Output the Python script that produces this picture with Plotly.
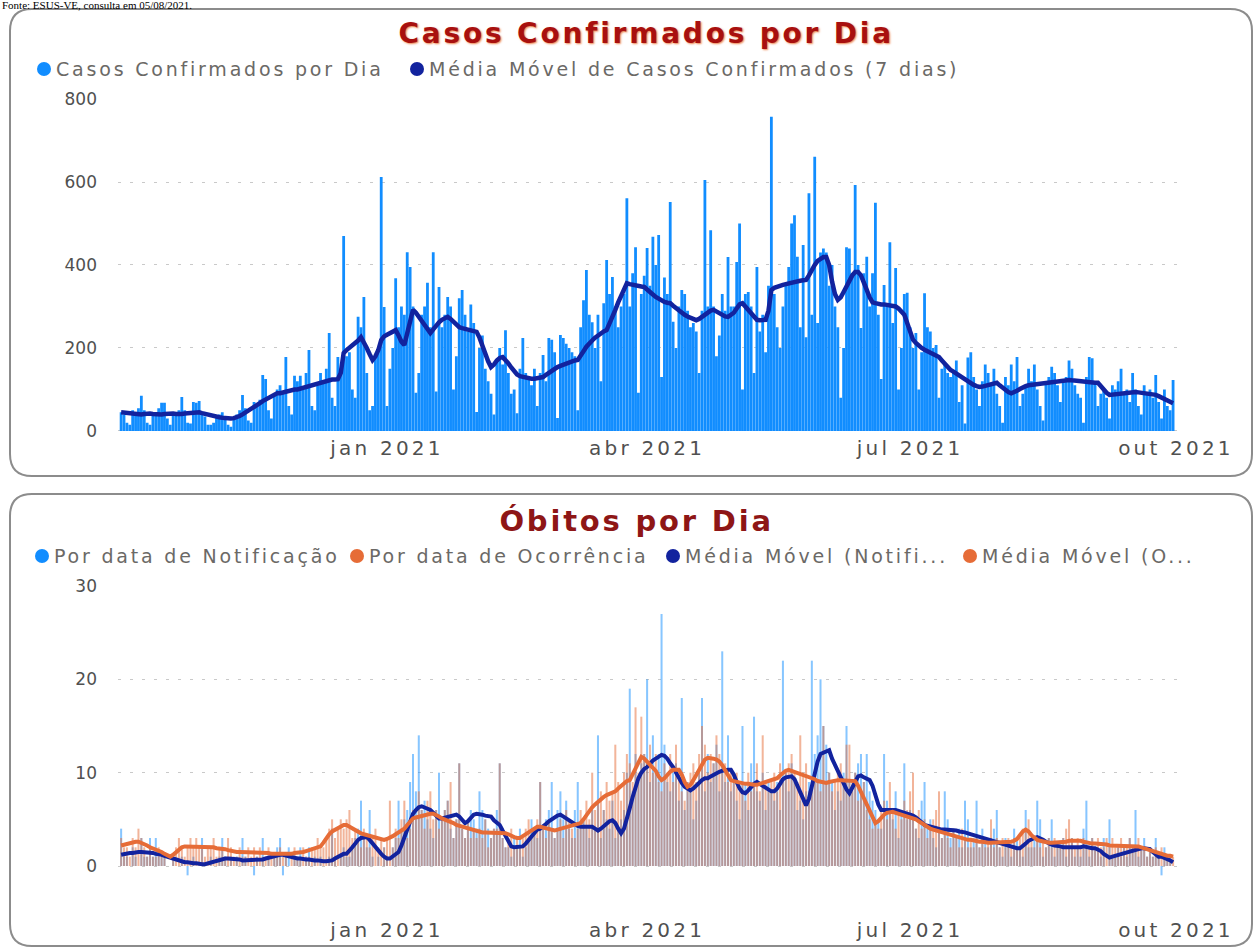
import pandas as pd
import plotly.graph_objects as go

# ---------------- DATA ----------------
month_starts = ["2020-10-01", "2020-11-01", "2020-12-01", "2021-01-01", "2021-02-01", "2021-03-01",
                "2021-04-01", "2021-05-01", "2021-06-01", "2021-07-01", "2021-08-01", "2021-09-01"]

tick_dates = ["2021-01-01", "2021-04-01", "2021-07-01", "2021-10-01"]
tick_labels = ["jan 2021", "abr 2021", "jul 2021", "out 2021"]

# Casos confirmados por dia (one row per month)
casos_dia = [
    [45,40,20,15,50,45,55,85,50,20,15,45,40,55,68,68,30,15,40,45,50,82,50,20,18,70,68,72,40,35,15],
    [15,20,35,40,45,35,15,10,30,40,50,87,55,25,20,70,60,75,135,125,50,30,90,100,110,95,178,60,40,133],
    [120,133,100,140,195,60,50,110,140,120,150,236,80,60,178,150,470,180,190,100,80,275,250,323,140,50,60,180,200,612,299],
    [60,150,200,368,250,300,280,431,395,300,92,140,280,300,357,250,431,95,347,250,280,323,300,100,180,320,340,280,240,305,260],
    [46,200,230,150,120,90,40,170,200,160,243,140,90,100,43,150,224,140,130,110,150,60,140,183,120,224,220,190],
    [31,231,224,210,200,190,180,50,250,315,388,280,262,200,280,120,308,412,330,371,300,250,300,330,561,300,380,443,92,330,374],
    [441,350,468,400,472,130,370,330,552,263,200,300,340,330,290,250,260,240,140,290,605,300,484,300,180,230,330,290,419,300],
    [300,407,500,100,330,335,300,140,395,240,280,190,350,757,330,250,200,300,350,395,500,520,420,250,448,226,573,280,661,260,430],
    [440,430,350,400,300,250,80,200,443,440,380,593,400,248,380,420,300,380,550,280,125,352,300,455,260,393,100,200,330,333],
    [250,200,236,100,190,332,250,240,200,207,80,150,160,140,130,140,170,70,110,18,177,190,130,100,60,120,160,140,110,150,90],
    [60,20,130,110,160,120,178,60,90,110,150,120,160,100,60,25,120,130,155,140,110,70,120,130,170,150,110,90,80,20,130],
    [178,175,120,60,90,100,80,30,110,100,120,150,90,100,70,140,100,60,40,110,90,100,80,135,70,30,100,60,50,123],
]

# Média móvel de casos confirmados (7 dias)
casos_mm7 = [
    [45,44,44,43,43,42,41,40,41,42,42,41,40,39,40,41,42,43,42,41,40,41,42,43,44,45,46,45,43,41,39],
    [37,35,34,33,32,31,30,30,31,33,36,40,44,48,52,56,60,67,72,76,80,84,88,91,91,93,95,97,99,100],
    [100,102,104,106,108,111,113,115,117,119,121,123,124,124,125,140,188,195,200,205,210,218,226,215,200,185,171,180,195,219,228],
    [232,236,240,243,230,215,207,235,265,292,285,275,265,255,245,236,245,255,262,268,272,275,270,262,255,250,248,246,244,242,240],
    [239,225,205,185,168,154,160,170,176,178,172,163,153,143,136,132,130,128,127,126,126,127,127,130,135,140,146,150],
    [154,157,160,163,166,168,170,171,180,192,203,212,218,225,231,237,240,243,258,275,292,310,325,340,356,354,352,350,349,348,347],
    [340,335,329,323,318,314,311,309,308,302,296,290,285,280,276,272,269,267,270,275,283,288,290,292,288,282,278,276,275,280],
    [285,295,305,308,300,290,280,272,268,267,267,268,290,340,345,348,350,352,354,356,358,360,361,362,363,364,375,390,400,410,415],
    [419,419,400,360,330,316,322,335,350,365,375,383,383,375,360,340,322,310,308,306,305,305,304,304,303,300,295,287,280,260],
    [240,220,212,205,200,196,192,190,186,182,178,170,162,155,147,143,138,133,128,123,119,115,111,108,106,107,109,111,113,115,116],
    [110,104,98,94,91,93,97,101,106,108,110,111,112,113,114,115,116,116,117,118,119,120,121,122,123,122,121,120,119,118,117],
    [117,116,116,116,108,98,92,87,88,89,90,91,92,93,93,94,94,93,92,91,91,91,89,87,84,80,77,74,70,67],
]

# Óbitos por data de notificação
obitos_notif = [
    [4,1,1,0,2,1,0,3,1,1,3,1,3,1,1,1,0,0,1,0,0,1,0,-1,0,1,0,0,3,0,0],
    [1,0,0,1,3,1,0,1,0,1,0,3,1,0,0,-1,1,0,3,0,1,0,1,2,3,-1,1,2,0,1],
    [1,2,0,1,2,0,1,0,1,0,0,1,4,1,0,1,2,1,1,2,3,4,7,3,2,6,1,0,1,0,2],
    [1,0,2,3,7,4,5,6,9,12,8,14,6,7,5,4,3,6,10,5,6,7,4,3,5,11,4,3,5,6,5],
    [4,8,6,5,4,3,4,6,11,3,2,2,1,3,2,4,1,2,3,5,4,3,9,4,5,6,9,3],
    [6,8,5,7,4,3,6,9,4,5,4,3,6,4,14,3,6,5,4,7,3,4,5,6,10,19,8,12,9,11,12],
    [20,9,14,10,12,27,13,9,8,10,11,7,18,6,9,8,5,7,10,18,8,12,9,11,13,8,23,9,14,8],
    [10,7,5,15,9,6,11,16,8,7,10,6,9,8,7,9,6,22,10,8,11,9,6,7,5,8,9,22,12,14,20],
    [15,13,10,9,6,8,7,10,15,9,8,10,11,12,9,12,8,7,6,5,4,12,7,6,5,8,3,6,11,5],
    [6,5,4,3,7,9,4,5,3,2,4,3,8,5,3,4,3,4,2,7,5,2,3,7,2,4,3,2,3,4,6],
    [2,1,3,2,1,4,3,2,1,6,2,2,3,7,5,1,2,3,5,1,2,2,3,1,2,3,1,2,1,4,7],
    [1,3,2,2,1,3,0,5,1,1,2,1,2,1,3,2,6,1,2,3,1,2,1,3,1,-1,2,1,1,0],
]

# Óbitos por data de ocorrência
obitos_ocorr = [
    [3,2,2,1,3,2,4,3,2,1,2,1,1,2,1,1,0,0,1,2,3,2,1,2,3,2,3,2,2,1,2],
    [2,3,1,2,2,1,3,2,1,1,2,1,1,2,1,2,1,2,1,1,2,1,1,1,2,1,1,0,1,2],
    [1,1,2,1,1,2,2,3,2,2,3,4,5,3,4,5,4,5,6,3,4,3,2,4,3,2,3,4,2,3,2],
    [3,7,2,4,3,5,7,3,4,6,5,8,6,4,7,8,5,6,4,5,6,7,9,3,5,11,4,3,5,3,4],
    [3,4,3,5,2,3,4,4,11,3,2,3,4,2,3,2,3,4,5,3,4,5,9,4,3,5,4,3],
    [4,5,3,6,5,4,3,4,6,5,7,5,10,6,7,8,6,9,7,8,13,9,7,10,12,11,9,17,10,16,12],
    [11,13,10,12,9,8,11,10,12,9,13,10,8,7,9,10,11,9,12,15,13,10,12,11,14,12,10,11,9,10],
    [9,10,8,9,7,10,8,9,11,8,14,9,8,9,10,8,11,9,10,11,12,10,9,14,10,11,8,9,10,9,8],
    [15,9,10,8,9,10,11,9,13,13,9,10,7,8,9,6,5,4,5,4,6,7,5,9,6,4,6,5,7,6],
    [8,10,4,6,4,5,3,4,5,6,8,3,4,3,2,4,3,2,4,3,2,3,2,3,2,3,2,3,5,2,3],
    [2,3,2,3,2,3,2,3,4,4,5,3,2,3,2,3,2,3,2,3,2,2,3,4,5,3,2,3,2,3,2],
    [2,3,2,3,2,2,3,2,3,2,2,3,2,2,3,2,2,3,2,2,1,2,1,2,1,2,1,1,1,1],
]

# Média móvel (notificação)
mm_notif = [
    [1.2,1.3,1.3,1.4,1.4,1.5,1.5,1.5,1.5,1.5,1.4,1.4,1.3,1.3,1.2,1.1,1.0,0.9,0.8,0.6,0.5,0.5,0.4,0.4,0.3,0.3,0.3,0.2,0.2,0.2,0.3],
    [0.4,0.5,0.6,0.7,0.8,0.8,0.8,0.8,0.7,0.7,0.7,0.6,0.6,0.6,0.6,0.6,0.6,0.6,0.7,0.8,0.9,1.0,1.1,1.2,1.2,1.2,1.1,1.0,0.9,0.8],
    [0.8,0.8,0.7,0.7,0.7,0.6,0.6,0.6,0.5,0.5,0.5,0.5,0.6,0.8,1.0,1.2,1.3,1.3,1.6,2.0,2.4,2.8,3.0,3.1,3.1,2.8,2.4,2.1,1.7,1.3,1.0],
    [0.8,0.8,1.0,1.3,1.5,2.2,3.0,4.0,4.8,5.6,6.0,6.3,6.4,6.3,6.1,6.0,5.7,5.4,5.1,5.1,5.2,5.3,5.4,5.5,5.5,5.3,5.0,4.6,4.8,5.2,5.5],
    [5.6,5.6,5.5,5.4,5.3,5.3,4.9,4.6,4.4,3.8,3.2,2.6,2.1,2.0,2.0,2.1,2.1,2.4,2.8,3.2,3.6,3.9,4.0,4.2,4.5,4.8,5.0,5.3],
    [5.4,5.5,5.3,5.0,4.8,4.6,4.4,4.3,4.2,4.2,4.2,4.2,4.2,4.0,3.8,4.0,4.3,4.6,4.8,4.9,4.6,4.0,3.5,4.0,5.0,6.2,7.4,8.5,9.4,10.0,10.4],
    [10.6,11.0,11.3,11.5,11.7,11.9,11.8,11.5,11.0,10.6,10.0,9.4,8.9,8.5,8.3,8.1,8.3,8.6,9.0,9.2,9.4,9.4,9.6,9.8,10.0,10.1,10.2,10.3,10.3,10.3],
    [9.8,9.0,8.3,7.9,7.8,8.1,8.5,8.8,9.0,8.8,8.5,8.3,8.1,8.0,8.0,8.3,8.8,9.3,9.5,9.6,9.6,9.3,8.6,7.8,7.0,6.5,7.2,8.6,10.0,11.2,12.0],
    [12.1,12.3,12.4,11.5,10.8,10.2,9.6,8.8,8.2,7.8,8.3,9.0,9.6,9.7,9.5,9.3,9.2,8.6,7.6,6.6,6.0,6.0,6.0,6.1,6.0,6.0,5.9,5.8,5.7,5.6],
    [5.6,5.4,5.2,5.0,4.7,4.4,4.3,4.2,4.1,4.0,3.9,3.9,3.9,3.9,3.8,3.8,3.8,3.7,3.7,3.6,3.5,3.4,3.3,3.2,3.1,3.0,2.9,2.8,2.7,2.7,2.6],
    [2.5,2.4,2.3,2.2,2.1,2.0,1.9,1.9,2.1,2.4,2.7,2.9,3.0,3.1,3.0,2.8,2.6,2.4,2.3,2.2,2.2,2.1,2.0,2.0,1.9,1.9,1.9,1.9,2.0,2.1,2.0],
    [2.0,1.9,1.9,1.8,1.6,1.3,1.1,0.9,1.0,1.1,1.2,1.3,1.4,1.5,1.5,1.6,1.7,1.8,1.9,1.9,1.9,1.8,1.5,1.2,1.0,1.0,0.9,0.8,0.6,0.4],
]

# Média móvel (ocorrência)
mm_ocorr = [
    [2.2,2.3,2.4,2.5,2.5,2.6,2.6,2.5,2.4,2.2,2.0,1.9,1.8,1.7,1.5,1.3,1.1,1.0,1.2,1.5,1.8,2.0,2.1,2.1,2.1,2.1,2.1,2.1,2.1,2.1,2.0],
    [2.0,2.0,1.9,1.9,1.9,1.8,1.7,1.6,1.5,1.5,1.5,1.5,1.5,1.5,1.5,1.5,1.5,1.5,1.5,1.5,1.4,1.3,1.3,1.2,1.2,1.2,1.2,1.3,1.3,1.4],
    [1.4,1.4,1.5,1.6,1.7,1.8,1.9,2.1,2.1,2.5,3.0,3.4,3.7,3.9,4.1,4.3,4.4,4.4,4.2,4.0,3.8,3.6,3.5,3.4,3.3,3.2,3.1,3.0,2.9,2.8,2.8],
    [2.9,3.0,3.2,3.4,3.6,3.7,4.0,4.4,4.8,5.1,5.2,5.3,5.4,5.5,5.6,5.6,5.6,5.5,5.3,5.1,5.0,4.9,4.8,4.6,4.4,4.3,4.2,4.1,4.0,3.9,3.8],
    [3.7,3.7,3.6,3.6,3.6,3.6,3.5,3.5,3.5,3.5,3.5,3.4,3.2,3.1,3.0,3.0,3.2,3.4,3.7,3.9,4.1,4.2,4.2,4.1,4.0,3.9,3.8,3.8],
    [3.9,4.0,4.1,4.2,4.3,4.4,4.5,4.6,4.6,5.0,5.5,6.0,6.3,6.6,6.9,7.2,7.4,7.6,7.7,7.8,8.0,8.3,8.6,8.9,9.1,9.2,9.8,10.5,11.1,11.7,11.5],
    [11.2,10.9,10.6,10.2,9.6,9.2,9.4,9.8,10.1,10.3,10.3,10.3,9.8,9.0,8.5,8.7,9.2,9.8,10.4,11.0,11.4,11.6,11.6,11.5,11.4,11.2,10.8,10.2,9.6,9.2],
    [9.1,9.0,8.9,8.9,8.8,8.8,8.7,8.7,8.7,8.8,8.9,9.0,9.1,9.2,9.2,9.4,9.7,10.0,10.2,10.3,10.2,10.1,10.0,9.9,9.8,9.7,9.6,9.4,9.3,9.1,9.0],
    [8.9,8.9,9.0,9.1,9.2,9.2,9.2,9.2,9.2,9.2,9.1,9.1,8.6,7.9,7.2,6.7,6.0,5.2,4.6,4.8,5.2,5.5,5.7,5.8,5.8,5.7,5.6,5.5,5.4,5.3],
    [5.3,5.2,5.0,4.8,4.6,4.3,4.1,4.0,3.9,3.8,3.7,3.6,3.5,3.5,3.4,3.3,3.2,3.1,3.0,2.9,2.8,2.8,2.7,2.7,2.6,2.6,2.5,2.5,2.5,2.5,2.5],
    [2.5,2.5,2.6,2.6,2.6,2.7,2.9,3.3,3.7,3.9,3.7,3.3,3.0,2.8,2.7,2.6,2.6,2.5,2.5,2.5,2.5,2.5,2.6,2.6,2.7,2.7,2.8,2.8,2.7,2.6,2.5],
    [2.5,2.4,2.4,2.4,2.3,2.3,2.3,2.2,2.2,2.2,2.2,2.2,2.2,2.2,2.2,2.2,2.2,2.1,2.0,1.9,1.7,1.6,1.5,1.4,1.4,1.3,1.2,1.1,1.1,1.0],
]


def flatten(rows):
    dates, vals = [], []
    for start, row in zip(month_starts, rows):
        d0 = pd.Timestamp(start)
        for k, v in enumerate(row):
            dates.append(d0 + pd.Timedelta(days=k))
            vals.append(v)
    return dates, vals


# ---------------- LAYOUT HELPERS (pixel -> paper) ----------------
W, H = 1260, 951
DAY_MS = 86400000


def PX(x):
    return x / W


def PY(y):
    return 1 - y / H


def rounded_rect(x0, y0, x1, y1, r):
    rx, ry = r / W, r / H
    a, b, c, d = PX(x0), PY(y1), PX(x1), PY(y0)  # left, bottom, right, top
    return (f"M {a+rx},{d} L {c-rx},{d} Q {c},{d} {c},{d-ry} L {c},{b+ry} Q {c},{b} {c-rx},{b} "
            f"L {a+rx},{b} Q {a},{b} {a},{b+ry} L {a},{d-ry} Q {a},{d} {a+rx},{d} Z")


BLUE, NAVY, ORANGE = "#118DFF", "#12239E", "#E66C37"
FONT = "DejaVu Sans"
TICK_COLOR = "#505050"
LEG_COLOR = "#6B6966"

fig = go.Figure()

d, v = flatten(casos_dia)
fig.add_trace(go.Bar(x=d, y=v, width=[DAY_MS * 0.97] * len(d), marker=dict(color=BLUE, line=dict(width=0)),
                     xaxis="x", yaxis="y", name="Casos Confirmados por Dia"))
d, v = flatten(casos_mm7)
fig.add_trace(go.Scatter(x=d, y=v, mode="lines", line=dict(color=NAVY, width=4.5), xaxis="x", yaxis="y",
                         name="Média Móvel de Casos Confirmados (7 dias)"))

d, v = flatten(obitos_notif)
fig.add_trace(go.Bar(x=d, y=v, width=[DAY_MS * 0.7] * len(d), marker=dict(color=BLUE, line=dict(width=0)),
                     opacity=0.5, xaxis="x2", yaxis="y2", name="Por data de Notificação"))
d, v = flatten(obitos_ocorr)
fig.add_trace(go.Bar(x=d, y=v, width=[DAY_MS * 0.7] * len(d), marker=dict(color=ORANGE, line=dict(width=0)),
                     opacity=0.5, xaxis="x2", yaxis="y2", name="Por data de Ocorrência"))
d, v = flatten(mm_notif)
fig.add_trace(go.Scatter(x=d, y=v, mode="lines", line=dict(color=NAVY, width=4), xaxis="x2", yaxis="y2",
                         name="Média Móvel (Notificação)"))
d, v = flatten(mm_ocorr)
fig.add_trace(go.Scatter(x=d, y=v, mode="lines", line=dict(color=ORANGE, width=4), xaxis="x2", yaxis="y2",
                         name="Média Móvel (Ocorrência)"))

x_range = ["2020-09-29 22:05", "2021-10-04 03:00"]
x_dom = [PX(118), PX(1185)]

xaxis_common = dict(type="date", range=x_range, domain=x_dom, showgrid=False, zeroline=False, showline=False,
                    tickmode="array", tickvals=tick_dates, ticktext=tick_labels, ticks="", automargin=False,
                    tickfont=dict(family=FONT, size=20, color=TICK_COLOR))
yaxis_common = dict(showgrid=True, gridcolor="#C9C9C9", griddash="3px,9px", gridwidth=1, zeroline=False,
                    showline=False, ticks="", automargin=False,
                    tickfont=dict(family=FONT, size=17, color=TICK_COLOR), ticklabelstandoff=20)

fig.update_layout(
    width=W, height=H, autosize=False, margin=dict(l=0, r=0, t=0, b=0, pad=0, autoexpand=False),
    paper_bgcolor="white", plot_bgcolor="rgba(0,0,0,0)",
    barmode="overlay", showlegend=False, hovermode=False,
    xaxis=dict(**xaxis_common, anchor="y"),
    yaxis=dict(**yaxis_common, anchor="x", range=[-8, 800], domain=[PY(434.3), PY(99)],
               tickvals=[0, 200, 400, 600, 800]),
    xaxis2=dict(**xaxis_common, anchor="y2"),
    yaxis2=dict(**yaxis_common, anchor="x2", range=[-5.4, 30], domain=[PY(916.4), PY(586)],
                tickvals=[0, 10, 20, 30]),
)

# panels
shapes = [
    dict(type="path", xref="paper", yref="paper", path=rounded_rect(10, 9, 1252, 476, 22),
         line=dict(color="#8C8C8C", width=2), fillcolor="rgba(0,0,0,0)", layer="below"),
    dict(type="path", xref="paper", yref="paper", path=rounded_rect(10, 494, 1252, 946, 22),
         line=dict(color="#8C8C8C", width=2), fillcolor="rgba(0,0,0,0)", layer="below"),
]

annotations = [
    dict(text="Fonte: ESUS-VE, consulta em 05/08/2021.", xref="paper", yref="paper", x=0, y=PY(5),
         xanchor="left", yanchor="middle", showarrow=False, align="left",
         font=dict(family="Liberation Serif", size=11, color="black")),
    dict(text="<b>Casos Confirmados por Dia</b>", xref="paper", yref="paper", x=PX(646), y=PY(33),
         xanchor="center", yanchor="middle", showarrow=False,
         font=dict(family=FONT, size=28, color="#A8100F", shadow="1px 1px 2px rgba(235,120,60,0.9)")),
    dict(text="<b>Óbitos por Dia</b>", xref="paper", yref="paper", x=PX(636), y=PY(521),
         xanchor="center", yanchor="middle", showarrow=False,
         font=dict(family=FONT, size=29, color="#8E1616")),
]

legend_items = [
    (44, 69, BLUE, "Casos Confirmados por Dia"),
    (417, 69, NAVY, "Média Móvel de Casos Confirmados (7 dias)"),
    (42, 556, BLUE, "Por data de Notificação"),
    (357, 556, ORANGE, "Por data de Ocorrência"),
    (673, 556, NAVY, "Média Móvel (Notifi..."),
    (970, 556, ORANGE, "Média Móvel (O..."),
]
for cx, cy, col, label in legend_items:
    r = 7
    shapes.append(dict(type="circle", xref="paper", yref="paper",
                       x0=PX(cx - r), x1=PX(cx + r), y0=PY(cy + r), y1=PY(cy - r),
                       fillcolor=col, line=dict(width=0)))
    annotations.append(dict(text=label, xref="paper", yref="paper", x=PX(cx + 10), y=PY(cy),
                            xanchor="left", yanchor="middle", showarrow=False, align="left",
                            font=dict(family=FONT, size=19, color=LEG_COLOR)))

fig.update_layout(shapes=shapes, annotations=annotations)

# The reference renders its texts horizontally stretched; widen them with letter spacing.
post = """
document.body.style.margin='0';document.body.style.overflow='hidden';
var gd=document.getElementById('{plot_id}');
gd.querySelectorAll('.annotation-text').forEach(function(t){
  if(t.textContent.indexOf('Fonte')!==0){t.style.letterSpacing='2.8px';}
});
gd.querySelectorAll('.xtick text, .x2tick text').forEach(function(t){t.style.letterSpacing='3.2px';});
"""
fig.write_html("out.html", config={"displayModeBar": False}, post_script=post)
